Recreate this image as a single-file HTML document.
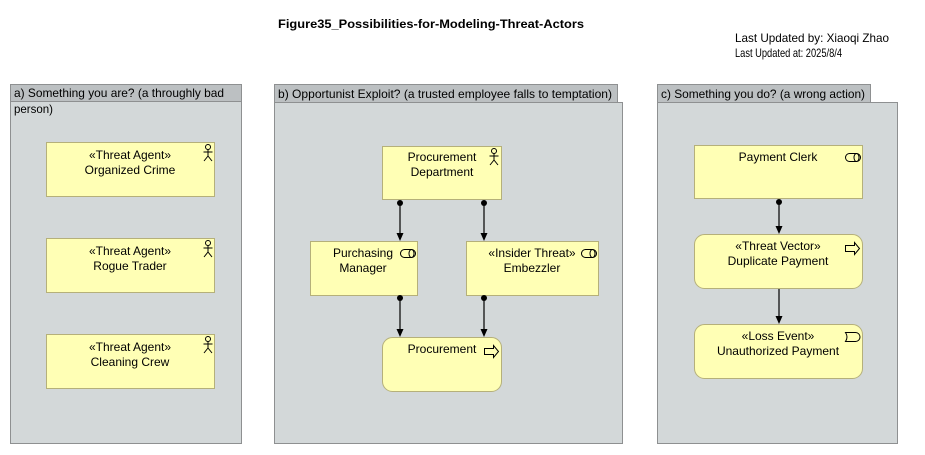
<!DOCTYPE html>
<html><head><meta charset="utf-8"><style>
html,body{margin:0;padding:0;background:#fff;}
svg{display:block;}
text{font-family:"Liberation Sans",sans-serif;font-size:12px;fill:#000;}
</style></head><body>
<svg width="925" height="455" viewBox="0 0 925 455" xmlns="http://www.w3.org/2000/svg">
<text x="431" y="28" text-anchor="middle" font-weight="bold" textLength="306" lengthAdjust="spacingAndGlyphs">Figure35_Possibilities-for-Modeling-Threat-Actors</text>
<text x="735" y="42" textLength="154" lengthAdjust="spacingAndGlyphs">Last Updated by: Xiaoqi Zhao</text>
<text x="735" y="57" textLength="107" lengthAdjust="spacingAndGlyphs">Last Updated at: 2025/8/4</text>

<!-- group a -->
<rect x="10.5" y="84.5" width="231" height="359" fill="#d3d8d9" stroke="#8e9091"/>
<rect x="10.5" y="84.5" width="231" height="17" fill="#bcc0c2" stroke="#8e9091"/>
<text x="14" y="97" textLength="210" lengthAdjust="spacingAndGlyphs">a) Something you are? (a throughly bad</text>
<text x="14" y="113" textLength="39" lengthAdjust="spacingAndGlyphs">person)</text>

<!-- group b -->
<rect x="274.5" y="102.5" width="348" height="341" fill="#d3d8d9" stroke="#8e9091"/>
<rect x="274.5" y="84.5" width="343" height="18" fill="#bcc0c2" stroke="#8e9091"/>
<text x="278" y="98" textLength="334" lengthAdjust="spacingAndGlyphs">b) Opportunist Exploit? (a trusted employee falls to temptation)</text>

<!-- group c -->
<rect x="657.5" y="102.5" width="240" height="341" fill="#d3d8d9" stroke="#8e9091"/>
<rect x="657.5" y="84.5" width="213" height="18" fill="#bcc0c2" stroke="#8e9091"/>
<text x="661" y="98" textLength="204" lengthAdjust="spacingAndGlyphs">c) Something you do? (a wrong action)</text>

<g fill="#ffffb5" stroke="#b5b07a">
<rect x="46.5" y="142.5" width="168" height="54"/>
<rect x="46.5" y="238.5" width="168" height="54"/>
<rect x="46.5" y="334.5" width="168" height="54"/>
<rect x="382.5" y="146.5" width="119" height="53"/>
<rect x="310.5" y="241.5" width="107" height="54"/>
<rect x="466.5" y="241.5" width="132" height="54"/>
<rect x="382.5" y="337.5" width="119" height="54" rx="10"/>
<rect x="694.5" y="145.5" width="168" height="53"/>
<rect x="694.5" y="234.5" width="168" height="54" rx="10"/>
<rect x="694.5" y="324.5" width="168" height="54" rx="10"/>
</g>

<g text-anchor="middle">
<text x="130" y="159">«Threat Agent»</text><text x="130" y="174">Organized Crime</text>
<text x="130" y="255">«Threat Agent»</text><text x="130" y="270">Rogue Trader</text>
<text x="130" y="351">«Threat Agent»</text><text x="130" y="366">Cleaning Crew</text>
<text x="442" y="161">Procurement</text><text x="442" y="176">Department</text>
<text x="363" y="257">Purchasing</text><text x="363" y="272">Manager</text>
<text x="532" y="257">«Insider Threat»</text><text x="532" y="272">Embezzler</text>
<text x="442" y="353">Procurement</text>
<text x="778" y="161">Payment Clerk</text>
<text x="778" y="250">«Threat Vector»</text><text x="778" y="265">Duplicate Payment</text>
<text x="778" y="340">«Loss Event»</text><text x="778" y="355">Unauthorized Payment</text>
</g>

<g fill="none" stroke="#000" stroke-width="1">
<g id="act"><circle cx="208" cy="147" r="2.5"/><path d="M208,149.5 V156 M203.5,152 H212.5 M208,156 L204,161 M208,156 L212,161"/></g>
<use href="#act" y="96"/><use href="#act" y="192"/>
<use href="#act" x="286" y="4"/>
<g id="role"><rect x="400.5" y="249.5" width="15" height="8" rx="4"/><ellipse cx="411.5" cy="253.5" rx="2.5" ry="4"/></g>
<use href="#role" x="181"/>
<use href="#role" x="445" y="-96"/>
<path id="proc" d="M484.5,348.5 H493.5 V345.5 L498.5,351.5 L493.5,357.5 V354.5 H484.5 Z"/>
<use href="#proc" x="361" y="-103"/>
<path d="M845.5,332.5 H855.5 A4.5,4.5 0 0 1 855.5,341.5 H845.5 Q848.5,337 845.5,332.5 Z"/>
</g>

<!-- connectors -->
<g stroke="#000" stroke-width="1.2">
<line x1="400" y1="203" x2="400" y2="234"/>
<line x1="484" y1="203" x2="484" y2="234"/>
<line x1="400" y1="298" x2="400" y2="330"/>
<line x1="484" y1="298" x2="484" y2="330"/>
<line x1="779" y1="202" x2="779" y2="227"/>
<line x1="779" y1="289" x2="779" y2="317"/>
</g>
<g fill="#000">
<circle cx="400" cy="203" r="3"/><circle cx="484" cy="203" r="3"/>
<circle cx="400" cy="298" r="3"/><circle cx="484" cy="298" r="3"/>
<circle cx="779" cy="202" r="3"/>
<path d="M396.5,233 H403.5 L400,241 Z"/>
<path d="M480.5,233 H487.5 L484,241 Z"/>
<path d="M396.5,329 H403.5 L400,337 Z"/>
<path d="M480.5,329 H487.5 L484,337 Z"/>
<path d="M775.5,226 H782.5 L779,234 Z"/>
<path d="M775.5,316 H782.5 L779,324 Z"/>
</g>
</svg>
</body></html>
